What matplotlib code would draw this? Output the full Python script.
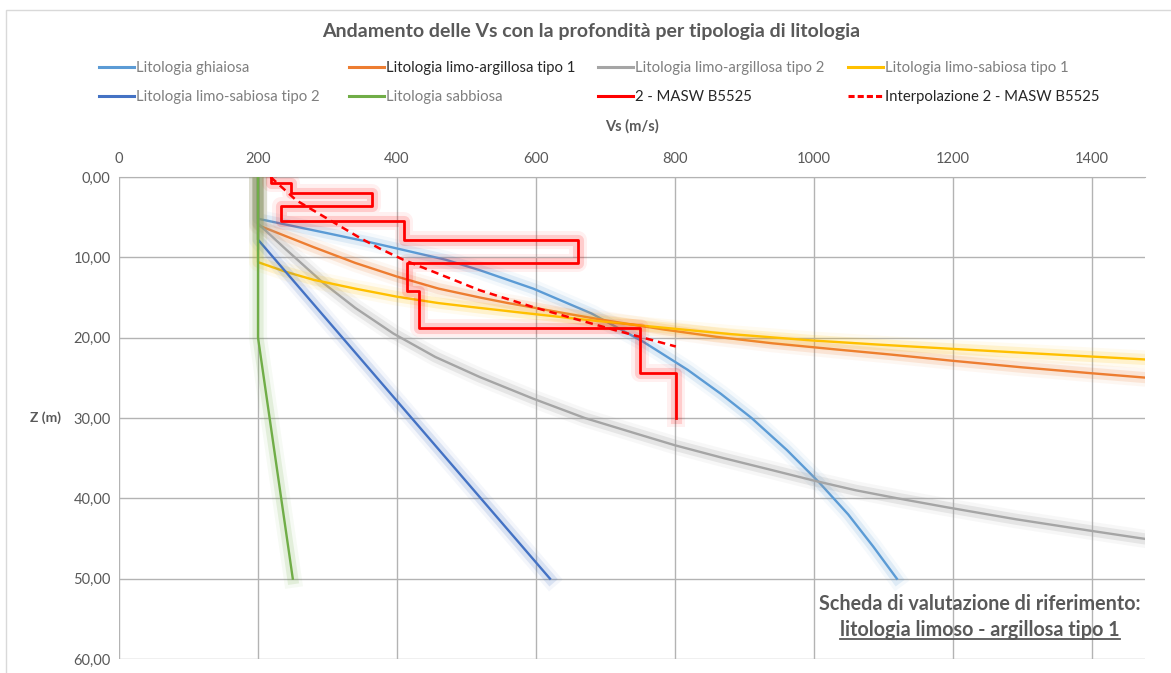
import numpy as np
import matplotlib
matplotlib.use("Agg")
import matplotlib.pyplot as plt
import matplotlib.patheffects as pe
from matplotlib.lines import Line2D
from matplotlib.patches import Rectangle

plt.rcParams['font.family'] = ['Lato', 'DejaVu Sans']

# --- data (Vs in m/s, depth z in m) ---
ghiaiosa_vs = [200, 200, 300, 360, 470, 519, 596, 680, 754, 818, 866, 910, 961, 1007, 1049, 1085, 1119]
ghiaiosa_z = [0, 5.2, 7.0, 8.1, 10.3, 11.6, 13.9, 17.0, 20.5, 24.0, 27.0, 30.0, 34.0, 38.0, 42.0, 46.0, 50.0]

limo_arg1_vs = [200, 200, 279, 340, 400, 460, 519, 560, 596, 650, 711,
                785, 860, 940, 1030, 1110, 1196, 1300, 1395, 1480]
limo_arg1_z = [0, 6.0, 8.7, 10.7, 12.4, 13.9, 15.0, 15.7, 16.25, 17.1, 18.0,
               19.0, 19.9, 20.7, 21.45, 22.1, 22.85, 23.7, 24.4, 25.0]

limo_arg2_vs = [200, 200, 240, 294, 340, 395, 455, 519, 596, 670, 750, 800, 870,
                940, 1000, 1060, 1120, 1190, 1290, 1395, 1480]
limo_arg2_z = [0, 5.8, 9.0, 13.2, 16.3, 19.5, 22.4, 24.9, 27.6, 30.0, 32.1, 33.4, 35.0,
               36.5, 37.8, 39.0, 40.0, 41.1, 42.6, 44.0, 45.1]

limo_sab1_vs = [200, 200, 240, 280, 340, 400, 460, 519, 596, 680, 764, 879, 997,
                1090, 1196, 1300, 1395, 1480]
limo_sab1_z = [0, 10.6, 11.8, 12.8, 13.9, 14.9, 15.7, 16.3, 17.05, 17.85, 18.6, 19.55, 20.35,
               20.85, 21.38, 21.88, 22.33, 22.73]

limo_sab2_vs = [200, 200, 620]
limo_sab2_z = [0, 7.8, 50.0]

sabbiosa_vs = [200, 200, 250]
sabbiosa_z = [0, 20.0, 50.0]

# MASW B5525 layered profile
masw_layer_vs = [218, 248, 364, 233, 410, 661, 414, 431, 750, 801]
masw_bounds_z = [0, 0.8, 2.0, 3.6, 5.5, 7.8, 10.7, 14.2, 18.8, 24.4, 30.0]

interp_vs = [218, 255, 347, 375, 409, 519, 596, 711, 801]
interp_z = [0, 2.9, 7.6, 8.9, 10.3, 14.1, 16.2, 19.0, 21.1]

x_ticks = [0, 200, 400, 600, 800, 1000, 1200, 1400]
z_ticks = [0, 10, 20, 30, 40, 50, 60]

labels = ["Litologia ghiaiosa", "Litologia limo-argillosa tipo 1",
          "Litologia limo-argillosa tipo 2", "Litologia limo-sabiosa tipo 1",
          "Litologia limo-sabiosa tipo 2", "Litologia sabbiosa",
          "2 - MASW B5525", "Interpolazione 2 - MASW B5525"]
colors = ['#5B9BD5', '#ED7D31', '#A5A5A5', '#FFC000',
          '#4472C4', '#70AD47', '#FF0000', '#FF0000']
dark_labels = ["Litologia limo-argillosa tipo 1", "2 - MASW B5525",
               "Interpolazione 2 - MASW B5525"]

W, H = 1171, 673
fig = plt.figure(figsize=(W / 100, H / 100), dpi=100)
ax = fig.add_axes([119 / W, 1 - 659 / H, (1145 - 119) / W, (659 - 177) / H])


def glow(color, a=0.16):
    return [pe.Stroke(linewidth=13, foreground=color, alpha=a * 0.4),
            pe.Stroke(linewidth=8, foreground=color, alpha=a),
            pe.Normal()]


masw_z = np.repeat(masw_bounds_z, 2)[1:-1]
masw_vs = np.repeat(masw_layer_vs, 2)

series = [(ghiaiosa_vs, ghiaiosa_z), (limo_arg1_vs, limo_arg1_z),
          (limo_arg2_vs, limo_arg2_z), (limo_sab1_vs, limo_sab1_z),
          (limo_sab2_vs, limo_sab2_z), (sabbiosa_vs, sabbiosa_z),
          (masw_vs, masw_z)]
for (vs, z), c in zip(series, colors):
    lw = 2.0 if c == '#FF0000' else 1.7
    a = 0.22 if c == '#A5A5A5' else 0.15
    ax.plot(vs, z, color=c, lw=lw, path_effects=glow(c, a),
            solid_joinstyle='round', zorder=3)
ax.plot(interp_vs, interp_z, color='#FF0000', lw=1.8, ls=(0, (3, 2)), zorder=4)

ax.set_xlim(0, 1476)
ax.set_ylim(60, 0)
ax.xaxis.tick_top()
ax.set_xticks(x_ticks)
ax.set_xticklabels([str(v) for v in x_ticks])
ax.set_yticks(z_ticks)
ax.set_yticklabels([f"{z:.2f}".replace('.', ',') for z in z_ticks])
ax.tick_params(axis='x', length=0, pad=8, colors='#595959', labelsize=10.5)
ax.tick_params(axis='y', length=0, pad=6, colors='#595959', labelsize=10.5)
ax.grid(True, color='#B3B3B3', lw=1)
ax.set_axisbelow(True)
for s in ['left', 'right', 'bottom']:
    ax.spines[s].set_visible(False)
ax.spines['top'].set_color('#B3B3B3')

ax.set_xlabel('Vs (m/s)', fontweight='bold', color='#595959', fontsize=10.5)
ax.xaxis.set_label_position('top')
ax.xaxis.set_label_coords(0.5, 1 + 46 / 482)
ax.set_ylabel('Z (m)', fontweight='bold', color='#595959', fontsize=10,
              rotation=0, va='center', ha='center')
ax.yaxis.set_label_coords(-74 / 1026, 0.5)

fig.text(591 / W, 1 - 32 / H,
         "Andamento delle Vs con la profondità per tipologia di litologia",
         ha='center', va='center', fontsize=14, fontweight='bold', color='#595959')

# legend: four columns, Excel row order
proxies = []
for lab, c in zip(labels, colors):
    ls = (0, (2, 1)) if lab.startswith("Interp") else '-'
    proxies.append(Line2D([], [], color=c, lw=2.2, ls=ls, label=lab))
col_x = [99, 349, 598, 848]
for i, x in enumerate(col_x):
    leg = fig.legend(handles=[proxies[i], proxies[i + 4]], loc='upper left',
                     bbox_to_anchor=(x / W, 1 - 61 / H), frameon=False,
                     borderpad=0, borderaxespad=0, handlelength=2.35,
                     handletextpad=0.12, labelspacing=1.0, fontsize=10.75)
    for t in leg.get_texts():
        t.set_color('#262626' if t.get_text() in dark_labels else '#7F7F7F')

fig.text(980 / W, 1 - 604 / H, "Scheda di valutazione di riferimento:",
         ha='center', va='center', fontsize=14.2, fontweight='bold', color='#595959')
t2 = fig.text(980 / W, 1 - 630 / H, "litologia limoso - argillosa tipo 1",
              ha='center', va='center', fontsize=14.2, fontweight='bold', color='#595959')
fig.canvas.draw()
bb = t2.get_window_extent().transformed(fig.transFigure.inverted())
fig.add_artist(Line2D([bb.x0, bb.x1], [bb.y0 + 0.002, bb.y0 + 0.002],
                      transform=fig.transFigure, color='#595959', lw=1.3))

fig.add_artist(Rectangle((6 / W, -0.05), 1.2, 1.05 - 10 / H, transform=fig.transFigure,
                         fill=False, edgecolor='#D9D9D9', lw=1))

fig.savefig("out.png", dpi=100)
